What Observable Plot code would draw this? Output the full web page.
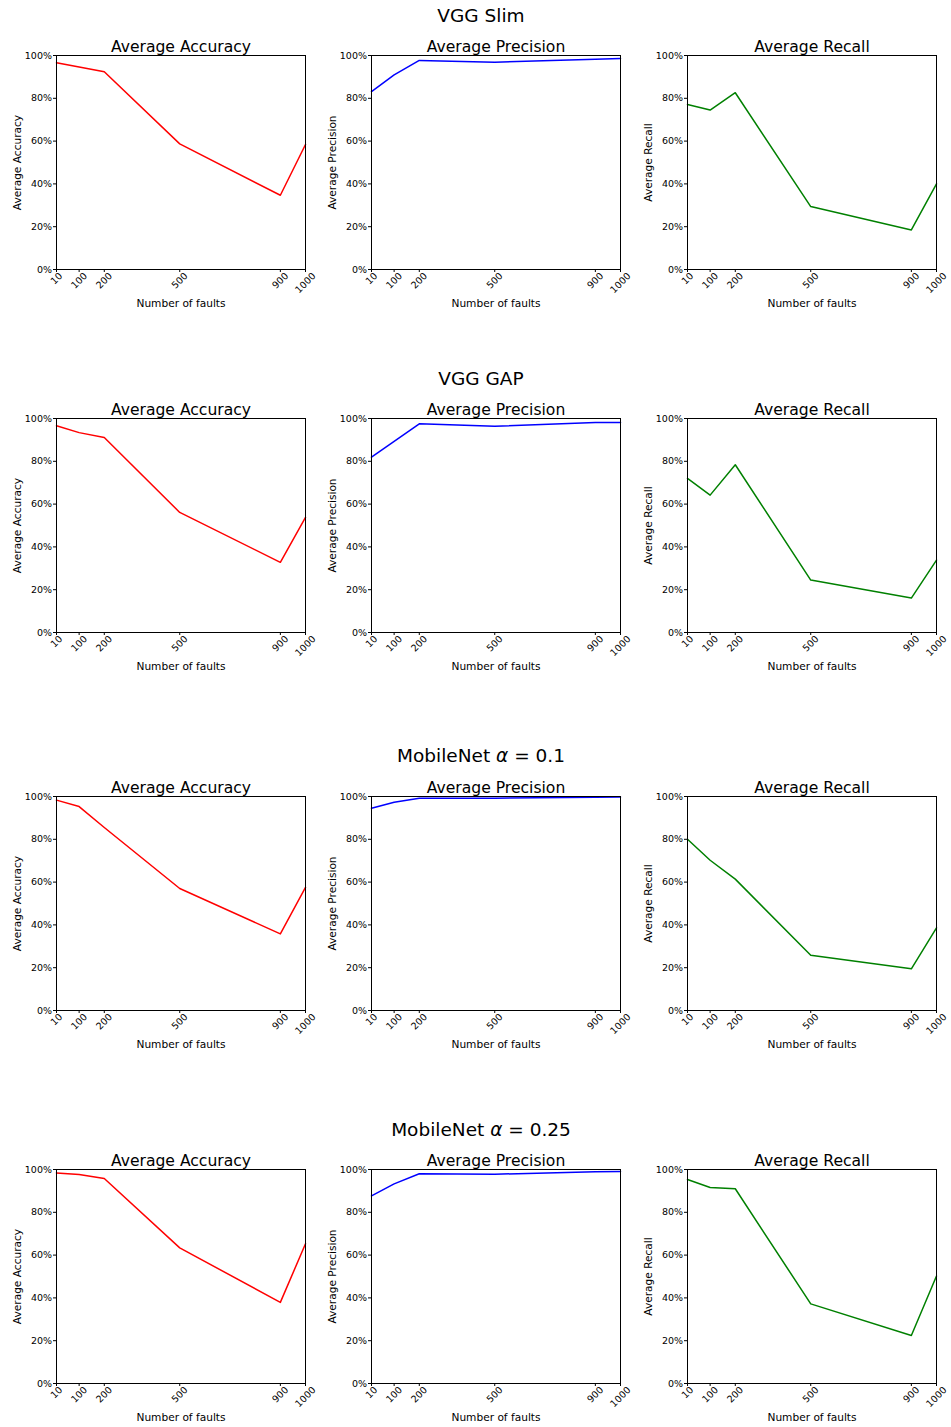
<!DOCTYPE html>
<html>
<head>
<meta charset="utf-8">
<script src="https://cdn.jsdelivr.net/npm/d3@7"></script>
<script src="https://cdn.jsdelivr.net/npm/@observablehq/plot@0.6"></script>
<style>
  html, body { margin: 0; padding: 0; background: #fff; overflow: hidden; }
  #root { position: relative; width: 951px; height: 1427px; overflow: hidden; background: #fff; font-family: "DejaVu Sans", sans-serif; }
  .rowtitle { position: absolute; left: 0; width: 962px; text-align: center; font-size: 18.5px; line-height: 18.5px; color: #000; white-space: nowrap; }
  .panel { position: absolute; }
</style>
</head>
<body>
<div id="root"></div>
<script>
// ---- data ----
const faults = [10, 100, 200, 500, 900, 1000];
const xTicks = [10, 100, 200, 500, 900, 1000];
const yTicks = [0, 20, 40, 60, 80, 100];

const modelNames = ["VGG Slim", "VGG GAP", "MobileNet α = 0.1", "MobileNet α = 0.25"];
const metricTitles = ["Average Accuracy", "Average Precision", "Average Recall"];
const metricColors = ["#ff0000", "#0000ff", "#008000"];

const vggSlimAccuracy = [96.6, 94.6, 92.4, 58.7, 34.7, 58.4];
const vggSlimPrecision = [83.1, 90.9, 97.7, 96.9, 98.3, 98.6];
const vggSlimRecall = [77.1, 74.5, 82.6, 29.4, 18.5, 40.0];

const vggGapAccuracy = [96.6, 93.4, 91.1, 56.1, 32.8, 53.8];
const vggGapPrecision = [81.9, 89.3, 97.5, 96.4, 98.1, 98.1];
const vggGapRecall = [72.0, 64.2, 78.4, 24.5, 16.1, 33.8];

const mobile01Accuracy = [98.3, 95.3, 85.5, 57.0, 35.8, 57.5];
const mobile01Precision = [94.5, 97.3, 99.2, 99.2, 99.7, 99.8];
const mobile01Recall = [80.0, 70.2, 61.4, 25.8, 19.5, 38.6];

const mobile025Accuracy = [98.4, 97.7, 95.8, 63.4, 37.9, 65.3];
const mobile025Precision = [87.7, 93.3, 98.0, 97.8, 98.9, 99.1];
const mobile025Recall = [95.3, 91.6, 91.0, 37.2, 22.4, 50.2];

const modelSeries = [
  [vggSlimAccuracy, vggSlimPrecision, vggSlimRecall],
  [vggGapAccuracy, vggGapPrecision, vggGapRecall],
  [mobile01Accuracy, mobile01Precision, mobile01Recall],
  [mobile025Accuracy, mobile025Precision, mobile025Recall]
];

// ---- layout ----
const plotTops = [55, 418, 796, 1169];
const rowTitleTops = [6.5, 369.5, 747, 1120.5];
const colLefts = [0, 316, 631];
const colMarginLeft = [56, 55, 56];
const colWidths = [331, 331, 320];
const colMarginRight = [26, 27, 15];
const MT = 25, PH = 214, MB = 51;

const root = document.getElementById("root");

modelNames.forEach((name, r) => {
  const t = document.createElement("div");
  t.className = "rowtitle";
  t.style.top = rowTitleTops[r] + "px";
  if (name.includes("α")) {
    const parts = name.split("α");
    t.innerHTML = parts[0] + '<i style="font-family:\'DejaVu Sans\'">α</i>' + parts[1];
  } else {
    t.textContent = name;
  }
  root.appendChild(t);

  metricTitles.forEach((title, c) => {
    const vals = modelSeries[r][c];
    const data = faults.map((f, i) => ({faults: f, value: vals[i]}));
    const tickLabelMarks = xTicks.map(tk => {
      const s = String(tk);
      const w = s.length * 0.636 * 9.5;
      return Plot.text([tk], {
        x: d => d, text: d => String(d), frameAnchor: "bottom",
        rotate: -45, textAnchor: "middle", lineAnchor: "middle",
        dy: 1 + (w + 11) * 0.354, fontSize: 9.5, fill: "black"
      });
    });
    const chart = Plot.plot({
      width: colWidths[c],
      height: MT + PH + MB,
      marginLeft: colMarginLeft[c],
      marginRight: colMarginRight[c],
      marginTop: MT,
      marginBottom: MB,
      style: {fontFamily: "DejaVu Sans", fontSize: "9.5px", background: "transparent", color: "black", overflow: "visible"},
      x: {domain: [10, 1000], type: "linear"},
      y: {domain: [0, 100]},
      marks: [
        Plot.axisY({ticks: yTicks, tickFormat: d => `${d}%`, tickSize: 3, tickPadding: 1.5, label: null, fontSize: 9.5}),
        Plot.axisX({ticks: xTicks, tickFormat: () => "", tickSize: 3, label: null}),
        ...tickLabelMarks,
        Plot.line(data, {x: "faults", y: "value", stroke: metricColors[c], strokeWidth: 1.5}),
        Plot.frame({stroke: "black", strokeWidth: 1}),
        Plot.text([title], {text: d => d, frameAnchor: "top", lineAnchor: "bottom", dy: -3.5, fontSize: 15.6, fill: "black"}),
        Plot.text(["Number of faults"], {text: d => d, frameAnchor: "bottom", lineAnchor: "middle", dy: 34, fontSize: 10.6, fill: "black"}),
        Plot.text([title], {text: d => d, frameAnchor: "left", rotate: -90, lineAnchor: "middle", textAnchor: "middle", dx: -39, fontSize: 10.6, fill: "black"})
      ]
    });
    chart.classList.add("panel");
    chart.style.left = colLefts[c] + "px";
    chart.style.top = (plotTops[r] - MT) + "px";
    chart.style.maxWidth = "none";
    root.appendChild(chart);
  });
});
</script>
</body>
</html>
